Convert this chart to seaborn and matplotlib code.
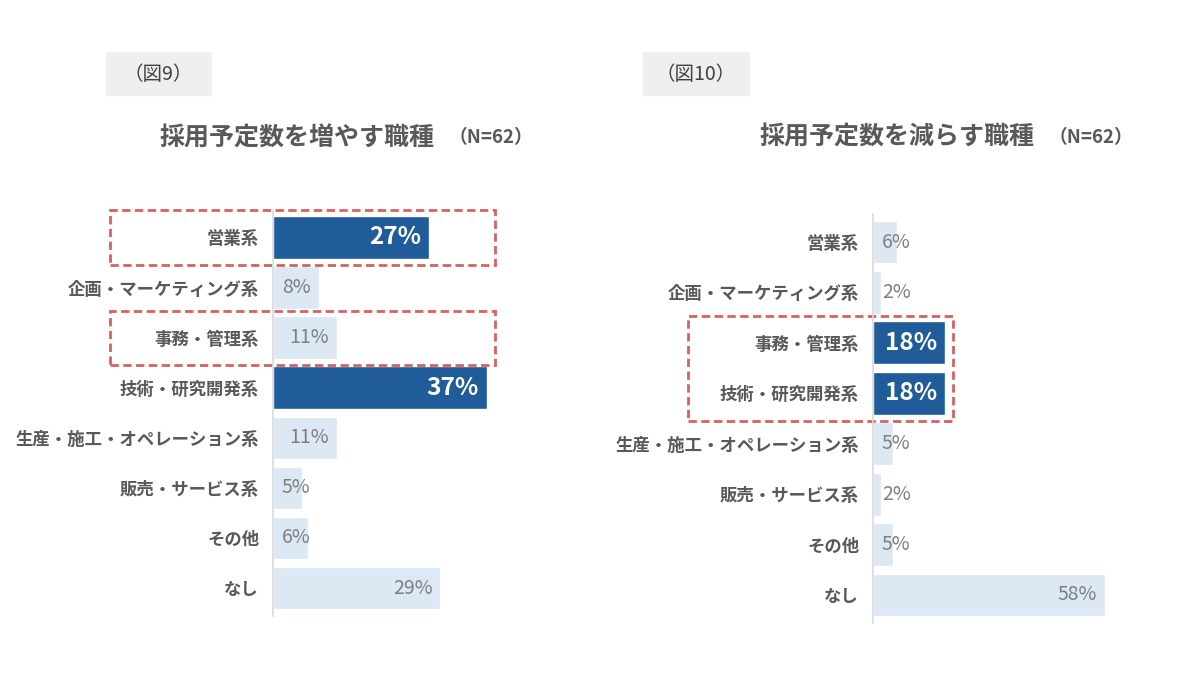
import matplotlib
matplotlib.use('Agg')
import matplotlib.pyplot as plt
import matplotlib.transforms as mtransforms
from matplotlib.patches import Rectangle
import seaborn as sns

# data
cats_inc = ['営業系', '企画・マーケティング系', '事務・管理系', '技術・研究開発系',
            '生産・施工・オペレーション系', '販売・サービス系', 'その他', 'なし']
vals_inc = [27, 8, 11, 37, 11, 5, 6, 29]
hi_inc = ['営業系', '技術・研究開発系']            # dark bars
box_inc = [['営業系'], ['事務・管理系']]           # red dashed boxes

cats_dec = ['営業系', '企画・マーケティング系', '事務・管理系', '技術・研究開発系',
            '生産・施工・オペレーション系', '販売・サービス系', 'その他', 'なし']
vals_dec = [6, 2, 18, 18, 5, 2, 5, 58]
hi_dec = ['事務・管理系', '技術・研究開発系']
box_dec = [['事務・管理系', '技術・研究開発系']]

DARK = '#1F5C99'
LIGHT = '#DDE8F5'
TXT = '#595959'
RED = '#D9605E'

sns.set_style('white')
plt.rcParams['font.family'] = ['Noto Sans CJK JP', 'DejaVu Sans']

fig = plt.figure(figsize=(12, 6.75), dpi=100)
ax1 = fig.add_axes([0.2275, 0.088, 0.1925, 0.601])
ax2 = fig.add_axes([0.7275, 0.0775, 0.2, 0.605])


def draw_panel(ax, cats, vals, hi, boxes, xmax, box_x0, box_x1):
    colors = [DARK if c in hi else LIGHT for c in cats]
    sns.barplot(x=vals, y=cats, hue=cats, palette=colors, legend=False,
                orient='h', width=0.85, ax=ax, saturation=1)
    ax.set_xlim(0, xmax)
    ax.set_ylim(len(cats) - 0.45, -0.55)
    ax.set_xlabel('')
    ax.set_ylabel('')
    ax.set_xticks([])
    sns.despine(ax=ax, top=True, right=True, bottom=True, left=False)
    ax.spines['left'].set_color('#D9D9D9')
    ax.spines['left'].set_linewidth(1.2)
    ax.tick_params(axis='y', length=0, pad=10)
    for t in ax.get_yticklabels():
        t.set_fontsize(12.5)
        t.set_color(TXT)
        t.set_fontweight('bold')

    # value labels: inside end, pushed to the start if they don't fit
    fig.canvas.draw()
    r = fig.canvas.get_renderer()
    px = ax.get_window_extent().width / xmax
    for i, (c, v) in enumerate(zip(cats, vals)):
        if c in hi:
            t = ax.text(v - 8 / px, i, f'{v}%', ha='right', va='center',
                        color='white', fontsize=17.5, fontweight='bold')
        else:
            t = ax.text(v - 8 / px, i, f'{v}%', ha='right', va='center',
                        color='#7F7F7F', fontsize=14)
        w = t.get_window_extent(r).width / px
        if v - 8 / px - w < 9 / px:
            t.set_x(9 / px)
            t.set_ha('left')

    # red dashed boxes
    trans = mtransforms.blended_transform_factory(fig.transFigure, ax.transData)
    for b in boxes:
        i0 = cats.index(b[0])
        i1 = cats.index(b[-1])
        rect = Rectangle((box_x0, i1 + 0.54), box_x1 - box_x0, -(i1 - i0 + 1.08),
                         transform=trans, fill=False, edgecolor=RED,
                         linewidth=2, linestyle=(0, (3, 1.6)), clip_on=False)
        ax.add_patch(rect)


draw_panel(ax1, cats_inc, vals_inc, hi_inc, box_inc, 40, 110 / 1200, 495 / 1200)
draw_panel(ax2, cats_dec, vals_dec, hi_dec, box_dec, 60, 688 / 1200, 953 / 1200)

# figure tags
for x0, x1, label in [(106, 211, '（図9）'), (643, 749, '（図10）')]:
    fig.patches.append(Rectangle((x0 / 1200, 1 - 95 / 675), (x1 - x0) / 1200, 43 / 675,
                                 transform=fig.transFigure, color='#EFEFEF', zorder=0))
    fig.text((x0 + x1) / 2400, 1 - 74 / 675, label, ha='center', va='center',
             fontsize=14, color='#404040')

# titles
for x, title in [(160, '採用予定数を増やす職種'), (760, '採用予定数を減らす職種')]:
    t = fig.text(x / 1200, 1 - 138 / 675, title, ha='left', va='center',
                 fontsize=18, fontweight='bold', color=TXT)
    fig.canvas.draw()
    bb = t.get_window_extent(fig.canvas.get_renderer())
    fig.text((bb.x1 + 14) / 1200, 1 - 138 / 675, '（N=62）', ha='left', va='center',
             fontsize=13.5, fontweight='bold', color=TXT)

fig.savefig('out.png', dpi=100)
